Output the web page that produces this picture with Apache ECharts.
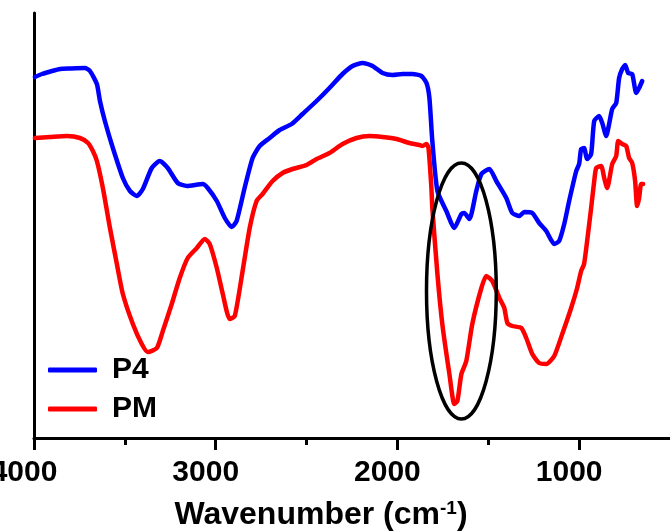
<!DOCTYPE html>
<html>
<head>
<meta charset="utf-8">
<script src="https://cdn.jsdelivr.net/npm/echarts@6/dist/echarts.min.js"></script>
<style>html,body{margin:0;padding:0;background:#fff;}#c{width:670px;height:531px;}</style>
</head>
<body>
<div id="c"></div>
<script>
// P4 spectrum: wavenumber (cm-1) and transmittance (a.u.)
const p4Wn = [3995,3956,3901,3857,3802,3720,3692,3654,3637,3610,3566,3511,3472,3434,3401,3352,3308,3264,3209,3159,3071,3044,2994,2950,2912,2885,2841,2797,2758,2703,2648,2582,2522,2445,2374,2302,2247,2192,2137,2082,2027,1972,1917,1868,1840,1824,1808,1780,1731,1687,1648,1632,1604,1566,1538,1494,1456,1401,1368,1329,1302,1258,1220,1181,1137,1110,1082,1055,1016,1000,989,973,956,934,917,890,873,851,835,818,796,780,763,747,730,708,686,670,653];
const p4T  = [361,364,367,369,369.5,370,367,354,337,317,290,260,247,242,249,270,277,270,255,252,254,250,237,220,211,217,250,280,292,300,308,314,324,337,350,364,372,375,372,365,363,364,364,362,355,340,297,247,227,210,224,225,219,247,264,269,257,240,225,222,226,225,215,207,194,197,214,237,267,274,289,290,279,284,317,322,315,302,314,329,335,360,369,373,365,364,345,350,357];
// PM spectrum
const pmWn = [3995,3912,3819,3747,3703,3676,3654,3621,3582,3544,3511,3456,3407,3374,3324,3291,3242,3198,3154,3104,3060,3033,2994,2961,2923,2895,2852,2813,2775,2742,2687,2632,2577,2500,2445,2374,2302,2225,2154,2082,2005,1934,1879,1862,1840,1829,1813,1808,1780,1753,1714,1687,1670,1648,1621,1588,1538,1511,1478,1439,1412,1395,1368,1318,1291,1258,1220,1181,1137,1093,1044,1011,989,973,956,934,917,906,879,862,846,818,796,785,763,741,725,708,692,681,670,659,648];
const pmT  = [300,301,302,300,295,287,277,250,210,174,144,114,94,86,90,107,134,160,180,190,199,194,170,144,119,122,167,210,237,244,257,265,269,273,279,285,294,300,302,301,299,295,293,292,294,290,250,230,164,114,64,34,37,64,77,114,150,162,157,140,130,115,112,110,100,84,75,74,82,104,130,150,167,174,197,230,257,270,272,260,250,274,282,297,294,292,280,275,257,232,240,254,254];
const majorTicks = [1000, 2000, 3000, 4000];
const minorTicks = [1500, 2500, 3500];
const seriesNames = ['P4', 'PM'];
const seriesColors = ['#0000FF', '#FF0000'];
// Annotation ellipse in data units: centre wavenumber, centre value, half-width (cm-1), half-height
const ellipseC = [1648, 147];
const ellipseHalf = [192, 128];

const FONT = '"Liberation Sans", Arial, sans-serif';
const chart = echarts.init(document.getElementById('c'), null, {renderer: 'canvas'});
const zip = (a, b) => a.map((v, i) => [v, b[i]]);

const option = {
  backgroundColor: '#fff',
  animation: false,
  textStyle: {fontFamily: FONT},
  grid: {left: 34, right: 0, top: 13, bottom: 93, containLabel: false, outerBoundsMode: 'none'},
  legend: {
    orient: 'vertical', left: 43, top: 350, itemWidth: 49, itemHeight: 5, itemGap: 9,
    data: seriesNames.map((n, i) => ({name: n, icon: 'roundRect', itemStyle: {color: seriesColors[i]}})),
    textStyle: {fontSize: 30, fontWeight: 'bold', color: '#000', fontFamily: FONT, padding: [0, 0, 0, 10]}
  },
  xAxis: [{
    type: 'value', min: 500, max: 4000, inverse: true,
    axisLine: {show: true, lineStyle: {color: '#000', width: 3}},
    axisTick: {show: true, customValues: majorTicks, length: 12, lineStyle: {color: '#000', width: 3}},
    axisLabel: {customValues: majorTicks, formatter: v => String(v), fontSize: 30, fontWeight: 'bold', color: '#000', fontFamily: FONT, margin: 20, padding: [0, 20, 0, 0]},
    splitLine: {show: false},
    name: 'Wavenumber (cm{sup|-1})', nameLocation: 'middle', nameGap: 61,
    nameTextStyle: {fontSize: 32, fontWeight: 'bold', color: '#000', fontFamily: FONT, padding: [0, 62, 0, 0],
      rich: {sup: {fontSize: 19, fontWeight: 'bold', color: '#000', fontFamily: FONT, verticalAlign: 'top', padding: [0, 0, 12, 0]}}}
  }, {
    type: 'value', min: 500, max: 4000, inverse: true, position: 'bottom', gridIndex: 0,
    axisLine: {show: false},
    axisTick: {show: true, customValues: minorTicks, length: 7, lineStyle: {color: '#000', width: 3}},
    axisLabel: {show: false},
    splitLine: {show: false}
  }],
  yAxis: {
    type: 'value', min: 0, max: 425,
    axisLine: {show: true, lineStyle: {color: '#000', width: 3}},
    axisTick: {show: false}, axisLabel: {show: false}, splitLine: {show: false}
  },
  series: seriesNames.map((n, i) => ({
    name: n, type: 'line', data: i === 0 ? zip(p4Wn, p4T) : zip(pmWn, pmT), symbol: 'none', smooth: 0.2,
    lineStyle: {color: seriesColors[i], width: 4.5, cap: 'round', join: 'round'}, itemStyle: {color: seriesColors[i]}
  }))
};
chart.setOption(option);

const c = chart.convertToPixel({xAxisIndex: 0, yAxisIndex: 0}, ellipseC);
const e = chart.convertToPixel({xAxisIndex: 0, yAxisIndex: 0}, [ellipseC[0] - ellipseHalf[0], ellipseC[1] + ellipseHalf[1]]);
chart.setOption({
  graphic: [{type: 'ellipse', z: 100,
    shape: {cx: c[0], cy: c[1], rx: Math.abs(e[0] - c[0]), ry: Math.abs(c[1] - e[1])},
    style: {fill: 'none', stroke: '#000', lineWidth: 3.5}}]
});
</script>
</body>
</html>
